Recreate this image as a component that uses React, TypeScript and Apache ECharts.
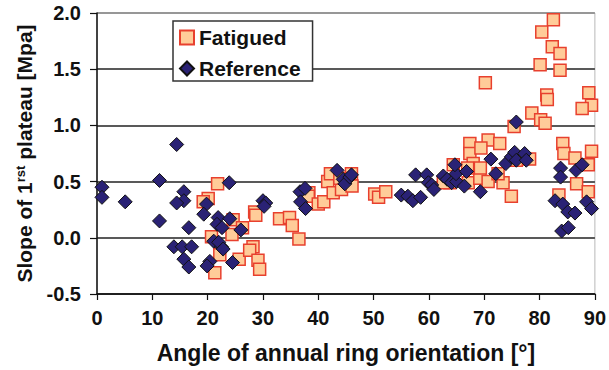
import React, { useEffect, useRef } from "react";
import * as echarts from "echarts";

const xTicks = [0, 10, 20, 30, 40, 50, 60, 70, 80, 90];
const yTicks = [-0.5, 0.0, 0.5, 1.0, 1.5, 2.0];
const seriesNames = ["Fatigued", "Reference"];

const fatiguedPoints: number[][] = [
  [21.8, 0.48], [20.1, 0.35], [19.2, 0.32], [24.6, 0.16], [26.3, 0.09], [20.7, 0.01],
  [24.4, 0.03], [22.2, -0.15], [25.7, -0.19], [21.3, -0.31], [28.2, -0.08], [27.6, -0.11],
  [29.1, -0.2], [29.4, -0.28], [28.5, 0.23], [28.7, 0.2],
  [33.0, 0.17], [34.8, 0.18], [35.3, 0.11], [36.5, -0.01], [38.3, 0.4], [38.2, 0.37],
  [40.0, 0.3], [41.0, 0.32], [41.7, 0.5], [42.2, 0.57], [42.7, 0.4], [44.2, 0.43],
  [46.0, 0.57], [46.1, 0.46], [43.9, 0.53], [50.2, 0.39], [50.9, 0.36], [52.2, 0.41],
  [67.4, 0.84], [70.7, 0.87], [72.8, 0.84], [67.4, 0.75], [69.4, 0.8], [68.0, 0.66],
  [64.4, 0.65], [63.8, 0.49], [62.6, 0.49], [67.1, 0.49], [69.2, 0.53], [70.7, 0.5],
  [73.4, 0.49], [74.9, 0.37], [72.5, 0.57], [78.2, 0.7], [75.8, 0.69], [67.0, 0.62], [69.3, 0.62],
  [84.2, 0.84], [84.4, 0.75], [86.4, 0.71], [89.4, 0.77], [88.8, 0.65], [86.7, 0.48],
  [88.8, 0.41], [83.5, 0.38],
  [82.5, 1.94], [80.4, 1.83], [82.3, 1.7], [83.7, 1.64], [80.1, 1.54], [83.7, 1.49],
  [70.2, 1.38], [88.9, 1.29], [89.4, 1.18], [87.7, 1.15], [81.3, 1.27], [81.4, 1.23],
  [78.6, 1.11], [80.2, 1.05], [81.0, 1.02], [75.4, 0.99],
];

const referencePoints: number[][] = [
  [0.9, 0.45], [0.9, 0.36], [5.1, 0.32], [11.3, 0.51], [14.4, 0.83], [11.3, 0.15],
  [15.7, 0.41], [15.7, 0.33], [14.4, 0.31], [16.6, 0.09], [13.9, -0.08], [15.4, -0.08],
  [17.1, -0.08], [15.7, -0.19], [16.6, -0.26], [23.9, 0.49], [19.8, 0.3], [19.3, 0.21],
  [21.9, 0.18], [24.0, 0.17], [21.7, 0.12], [22.6, 0.09], [26.0, 0.07], [21.1, -0.03],
  [22.5, -0.08], [22.0, -0.04], [22.8, -0.1], [20.4, -0.21], [19.9, -0.25], [24.5, -0.22],
  [30.0, 0.33], [30.5, 0.31], [30.2, 0.28], [36.7, 0.41], [37.6, 0.44], [36.8, 0.32],
  [37.7, 0.26], [43.4, 0.6], [44.5, 0.52], [44.8, 0.48], [45.7, 0.54], [46.0, 0.56],
  [57.6, 0.56], [55.0, 0.38], [56.2, 0.37], [57.1, 0.33], [58.5, 0.36], [59.6, 0.56],
  [59.9, 0.49], [60.5, 0.47], [60.9, 0.43], [62.6, 0.55], [63.3, 0.52], [64.1, 0.49],
  [65.0, 0.5], [64.9, 0.57], [64.7, 0.65], [66.4, 0.46], [66.8, 0.59], [69.3, 0.41],
  [71.2, 0.7], [72.1, 0.57], [73.9, 0.66], [74.9, 0.72], [75.5, 0.76], [75.8, 0.69],
  [77.3, 0.75], [77.6, 0.69], [75.8, 1.03],
  [83.8, 0.62], [83.8, 0.54], [86.6, 0.6], [87.7, 0.65], [82.8, 0.33], [84.2, 0.3],
  [85.1, 0.23], [86.4, 0.22], [88.5, 0.32], [89.4, 0.26], [84.0, 0.06], [85.2, 0.09],
];

const FONT = "'Liberation Sans', Arial, Helvetica, sans-serif";

export default function App() {
  const ref = useRef<HTMLDivElement>(null);
  useEffect(() => {
    if (!ref.current) return;
    const chart = echarts.init(ref.current, undefined, { renderer: "svg" });
    chart.setOption({
      animation: false,
      backgroundColor: "#ffffff",
      textStyle: { fontFamily: FONT },
      grid: {
        left: 97,
        right: 14,
        top: 13,
        bottom: 76,
        show: true,
        borderColor: "#b8b8b8",
        borderWidth: 1,
        backgroundColor: "transparent",
      },
      legend: {
        orient: "vertical",
        left: 173,
        top: 21,
        data: seriesNames,
        backgroundColor: "#ffffff",
        borderColor: "#333333",
        borderWidth: 1.5,
        borderRadius: 0,
        padding: [6, 12, 2, 6],
        itemGap: 10,
        itemWidth: 14,
        itemHeight: 14,
        textStyle: { fontSize: 21, fontWeight: "bold", color: "#111", fontFamily: FONT, lineHeight: 20 },
      },
      xAxis: {
        type: "value",
        min: xTicks[0],
        max: xTicks[xTicks.length - 1],
        interval: 10,
        name: "Angle of annual ring orientation [°]",
        nameLocation: "middle",
        nameGap: 47,
        nameTextStyle: { fontSize: 23, fontWeight: "bold", color: "#111", fontFamily: FONT },
        axisLine: { show: true, onZero: false, lineStyle: { color: "#111", width: 1.5 } },
        axisTick: { show: true, inside: false, length: 6, lineStyle: { color: "#111", width: 1.2 } },
        axisLabel: { fontSize: 20, fontWeight: "bold", color: "#111", margin: 14, fontFamily: FONT },
        splitLine: { show: false },
      },
      yAxis: {
        type: "value",
        min: yTicks[0],
        max: yTicks[yTicks.length - 1],
        interval: 0.5,
        name: "{a|Slope of 1}{b|rst}{a| plateau [Mpa]}",
        nameLocation: "middle",
        nameGap: 62,
        nameTextStyle: {
          fontSize: 21,
          fontWeight: "bold",
          color: "#111",
          fontFamily: FONT,
          rich: {
            a: { fontSize: 21, fontWeight: "bold", color: "#111", fontFamily: FONT },
            b: { fontSize: 13, fontWeight: "bold", color: "#111", fontFamily: FONT, verticalAlign: "top", padding: [0, 0, 8, 0] },
          },
        },
        axisLine: { show: true, onZero: false, lineStyle: { color: "#111", width: 1.5 } },
        axisTick: { show: true, inside: false, length: 7, lineStyle: { color: "#111", width: 1.2 } },
        axisLabel: {
          fontSize: 20,
          fontWeight: "bold",
          color: "#111",
          margin: 16,
          fontFamily: FONT,
          formatter: (v: number) => v.toFixed(1),
        },
        splitLine: {
          show: true,
          lineStyle: { color: ["#222", "#222", "#222", "#222", "#222", "#808080"], width: 1.5 },
        },
      },
      series: [
        {
          name: seriesNames[0],
          type: "scatter",
          symbol: "rect",
          symbolSize: 12,
          data: fatiguedPoints,
          itemStyle: { color: "#FFCC99", borderColor: "#E8402E", borderWidth: 1.5, opacity: 1 },
          z: 2,
        },
        {
          name: seriesNames[1],
          type: "scatter",
          symbol: "diamond",
          symbolSize: 14,
          data: referencePoints,
          itemStyle: { color: "#2A2275", borderColor: "#111111", borderWidth: 1, opacity: 1 },
          z: 3,
        },
      ],
    });
    return () => chart.dispose();
  }, []);
  return <div ref={ref} style={{ position: "fixed", left: 0, top: 0, width: 609, height: 370 }} />;
}
